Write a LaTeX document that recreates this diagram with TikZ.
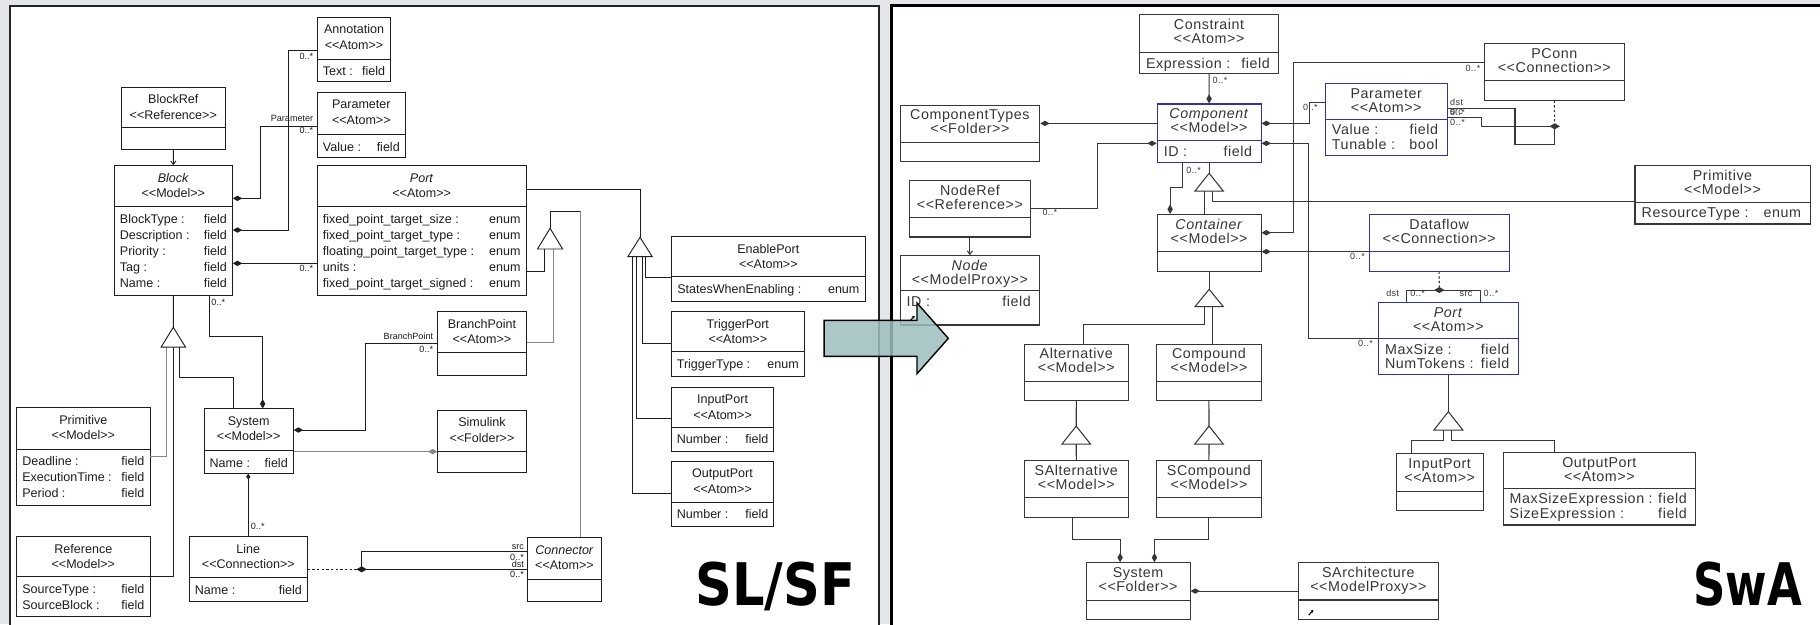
\documentclass[tikz,border=0pt]{standalone}
\usepackage{fontspec}
\usepackage{graphicx}
\setmainfont{Liberation Sans}
\newfontfamily\lfont{Liberation Sans}
\newfontfamily\rfont{Liberation Sans}[LetterSpace=4]
\newfontfamily\bigfont{DejaVu Sans}
\usetikzlibrary{arrows.meta,calc,fit}

\definecolor{bggray}{RGB}{228,230,234}
\definecolor{ink}{RGB}{30,30,30}
\definecolor{paleink}{RGB}{135,135,135}
\definecolor{rink}{RGB}{55,55,55}
\definecolor{umlblue}{RGB}{50,50,165}
\definecolor{arrowfill}{RGB}{158,190,190}

\tikzset{
  lbox/.style={draw=ink, line width=0.8pt, fill=white, inner sep=0pt},
  rbox/.style={draw=rink, line width=0.9pt, fill=white, inner sep=0pt},
  bluebox/.style={draw=umlblue},
  ltxt/.style={font=\lfont\fontsize{10.8}{13}\selectfont, text=ink, inner sep=0pt},
  rtxt/.style={font=\rfont\fontsize{12.3}{14}\selectfont, text=rink, inner sep=0pt},
  llab/.style={font=\lfont\fontsize{7.8}{9}\selectfont, text=ink, inner sep=0pt},
  rlab/.style={font=\rfont\fontsize{7.8}{9}\selectfont, text=rink, inner sep=0pt},
  lrel/.style={draw=ink, line width=0.8pt},
  rrel/.style={draw=rink, line width=0.9pt},
  pale/.style={draw=paleink},
  dstart/.style={arrows={Diamond[length=8pt,width=4.6pt]-}},
  dend/.style={arrows={-Diamond[length=8pt,width=4.6pt]}},
  barb/.style={arrows={-Straight Barb[length=3pt,width=4.5pt]}},
  dots/.style={dash pattern=on 2pt off 2pt},
}

% class box: style, name, x1, y1, x2, y2, divider y
\newcommand\umlbox[7]{%
  \path (#3,#4) coordinate (#2-nw) (#5,#6) coordinate (#2-se);
  \node[#1, fit=(#2-nw)(#2-se)] (#2) {};
  \draw[#1, fill=none] (#3,#7) -- (#5,#7);
}
% name and stereotype lines
\newcommand\lhead[3]{%
  \node[ltxt, anchor=base] (#1-name) at ($(#1.north)+(0,14.5)$) {#2};
  \node[ltxt, anchor=base] (#1-stereo) at ($(#1.north)+(0,28)$) {#3};}
\newcommand\rhead[3]{%
  \node[rtxt, anchor=base] (#1-name) at ($(#1.north)+(0,13.3)$) {#2};
  \node[rtxt, anchor=base] (#1-stereo) at ($(#1.north)+(0,25.3)$) {#3};}
% attribute row: box, index, baseline y, attribute, type
\newcommand\lattr[5]{%
  \node[ltxt, anchor=base west, xshift=5pt] (#1-a#2) at (#1.west |- 0,#3) {#4};
  \node[ltxt, anchor=base east, xshift=-5pt] (#1-t#2) at (#1.east |- 0,#3) {#5};}
\newcommand\rattr[5]{%
  \node[rtxt, anchor=base west, xshift=6pt] (#1-a#2) at (#1.west |- 0,#3) {#4};
  \node[rtxt, anchor=base east, xshift=-8pt] (#1-t#2) at (#1.east |- 0,#3) {#5};}
% open generalisation triangle: style, apex x, apex y, half width, height
\newcommand\gentri[5]{%
  \draw[#1, fill=white, line join=miter] (#2,#3) -- ++(-#4,#5) -- ++({2*#4},0) -- cycle;}
% filled junction diamond
\newcommand\jdiam[2]{%
  \fill[#2] (#1) +(-4.5,0) -- +(0,-2.6) -- +(4.5,0) -- +(0,2.6) -- cycle;}

\begin{document}
\begin{tikzpicture}[x=1pt,y=-1pt]
\useasboundingbox (0,0) rectangle (1568,538);
\fill[bggray] (0,0) rectangle (1568,538);
\draw[draw=black!85, line width=2pt, fill=white] (8.5,5) rectangle (757,560);
\draw[draw=black, line width=2.6pt, fill=white] (768,4.5) rectangle (1600,560);

% ---------------- SL/SF meta-model ----------------
\umlbox{lbox}{annot}{273.4}{14.9}{336.6}{70.6}{51.1}
\lhead{annot}{Annotation}{<<Atom>>}
\lattr{annot}{1}{65.3}{Text :}{field}

\umlbox{lbox}{lparam}{273.4}{79.8}{349.2}{135.6}{116.0}
\lhead{lparam}{Parameter}{<<Atom>>}
\lattr{lparam}{1}{130.2}{Value :}{field}

\umlbox{lbox}{blockref}{104.5}{75.0}{194.1}{128.4}{109.4}
\lhead{blockref}{BlockRef}{<<Reference>>}

\umlbox{lbox}{block}{98.5}{142.7}{200.2}{254.2}{178.1}
\lhead{block}{\textit{Block}}{<<Model>>}
\lattr{block}{1}{192.3}{BlockType :}{field}
\lattr{block}{2}{206.1}{Description :}{field}
\lattr{block}{3}{219.9}{Priority :}{field}
\lattr{block}{4}{233.7}{Tag :}{field}
\lattr{block}{5}{247.5}{Name :}{field}

\umlbox{lbox}{lport}{273.4}{142.7}{453.2}{254.2}{178.1}
\lhead{lport}{\textit{Port}}{<<Atom>>}
\lattr{lport}{1}{192.3}{fixed\_point\_target\_size :}{enum}
\lattr{lport}{2}{206.1}{fixed\_point\_target\_type :}{enum}
\lattr{lport}{3}{219.9}{floating\_point\_target\_type :}{enum}
\lattr{lport}{4}{233.7}{units :}{enum}
\lattr{lport}{5}{247.5}{fixed\_point\_target\_signed :}{enum}

\umlbox{lbox}{enable}{578.7}{203.9}{745.2}{259.3}{238.4}
\lhead{enable}{EnablePort}{<<Atom>>}
\lattr{enable}{1}{252.6}{StatesWhenEnabling :}{enum}

\umlbox{lbox}{trigger}{578.3}{268.5}{693.0}{324.5}{303.0}
\lhead{trigger}{TriggerPort}{<<Atom>>}
\lattr{trigger}{1}{317.2}{TriggerType :}{enum}

\umlbox{lbox}{linput}{578.3}{333.7}{666.7}{389.1}{368.2}
\lhead{linput}{InputPort}{<<Atom>>}
\lattr{linput}{1}{382.4}{Number :}{field}

\umlbox{lbox}{loutput}{578.3}{397.7}{666.7}{453.8}{432.7}
\lhead{loutput}{OutputPort}{<<Atom>>}
\lattr{loutput}{1}{446.9}{Number :}{field}

\umlbox{lbox}{branch}{377.2}{268.5}{453.2}{323.1}{303.9}
\lhead{branch}{BranchPoint}{<<Atom>>}

\umlbox{lbox}{simulink}{377.2}{353.2}{453.2}{407.2}{389.1}
\lhead{simulink}{Simulink}{<<Folder>>}

\umlbox{lbox}{system}{175.8}{352.3}{252.7}{407.8}{388.3}
\lhead{system}{System}{<<Model>>}
\lattr{system}{1}{402.5}{Name :}{field}

\umlbox{lbox}{lprim}{14.4}{351.2}{129.2}{435.1}{386.9}
\lhead{lprim}{Primitive}{<<Model>>}
\lattr{lprim}{1}{401.1}{Deadline :}{field}
\lattr{lprim}{2}{414.9}{ExecutionTime :}{field}
\lattr{lprim}{3}{428.7}{Period :}{field}

\umlbox{lbox}{lref}{14.4}{462.4}{129.2}{531.3}{496.8}
\lhead{lref}{Reference}{<<Model>>}
\lattr{lref}{1}{511.0}{SourceType :}{field}
\lattr{lref}{2}{524.8}{SourceBlock :}{field}

\umlbox{lbox}{line}{163.1}{462.4}{264.8}{518.4}{497.7}
\lhead{line}{Line}{<<Connection>>}
\lattr{line}{1}{511.9}{Name :}{field}

\umlbox{lbox}{connector}{454.6}{463.2}{518.0}{517.8}{499.1}
\lhead{connector}{\textit{Connector}}{<<Atom>>}

% SL/SF relations
\draw[lrel,barb] (blockref.south) -- (block.north);
\draw[lrel,dstart] (block.east |- 0,170.9) -| (224,108.6) -- (lparam.west |- 0,108.6);
\draw[lrel,dstart] (block.east |- 0,198.2) -| (248.4,43.7) -- (annot.west |- 0,43.7);
\draw[lrel,dstart] (block.east |- 0,226.9) -- (lport.west |- 0,226.9);
\draw[lrel,dend] (block.south -| 180.4,0) |- (226.3,289.5) -- (system.north -| 226.3,0);

\draw[lrel] (block.south) -- (149.3,282);
\draw[lrel,pale] (143.6,299) |- (lprim.east |- 0,392.9);
\draw[lrel] (149.3,299) |- (lref.east |- 0,496.8);
\draw[lrel] (154.2,299) |- (201,325.1) -- (system.north -| 201,0);
\gentri{lrel}{149.3}{282}{10.5}{17}

\draw[lrel,dstart] (system.east |- 0,370.5) -| (314.5,295.8) -- (branch.west |- 0,295.8);
\draw[lrel,pale,dend] (system.east |- 0,389.1) -- (simulink.west |- 0,389.1);
\draw[lrel,arrows={Diamond[length=5pt,width=3.6pt]-}] (system.south -| 213.9,0) -- (line.north -| 213.9,0);

\coordinate (lj) at (311.6,490.5);
\draw[lrel,dots] (line.east |- lj) -- (lj);
\draw[lrel] (lj) -- (connector.west |- lj);
\draw[lrel] (lj) |- (connector.west |- 0,475.2);
\jdiam{lj}{ink}

\draw[lrel,pale] (connector.north -| 499.7,0) -- (499.7,181.8);
\draw[lrel] (499.7,181.8) -- (473.9,181.8) -- (473.9,196.7);
\draw[lrel] (469.5,214.5) |- (lport.east |- 0,234.1);
\draw[lrel,pale] (476.7,214.5) |- (branch.east |- 0,295.3);
\gentri{lrel}{473.9}{196.7}{10.8}{17.8}

\draw[lrel] (lport.east |- 0,162.8) -| (551.4,204.5);
\draw[lrel] (556.5,221.1) |- (enable.west |- 0,239.2);
\draw[lrel] (553.6,221.1) |- (trigger.west |- 0,295.8);
\draw[lrel] (548.6,221.1) |- (linput.west |- 0,360.4);
\draw[lrel] (544.8,221.1) |- (loutput.west |- 0,425.0);
\gentri{lrel}{551.4}{204.5}{10.5}{16.6}

\node[llab,anchor=base east] (ll1) at (270,104.3) {Parameter};
\node[llab,anchor=base east] (ll2) at (270,114.9) {0..*};
\node[llab,anchor=base east] (ll3) at (270,51.1) {0..*};
\node[llab,anchor=base east] (ll4) at (270,233.5) {0..*};
\node[llab,anchor=base west] (ll5) at (182,263.6) {0..*};
\node[llab,anchor=base east] (ll6) at (373.3,292.3) {BranchPoint};
\node[llab,anchor=base east] (ll7) at (373.3,303.3) {0..*};
\node[llab,anchor=base west] (ll8) at (216,456.6) {0..*};
\node[llab,anchor=base east] (ll9) at (451.5,473.3) {src};
\node[llab,anchor=base east] (ll10) at (451.5,482.6) {0..*};
\node[llab,anchor=base east] (ll11) at (451.5,489.2) {dst};
\node[llab,anchor=base east] (ll12) at (451.5,497.6) {0..*};

\node[font=\bigfont\bfseries\fontsize{44}{50}\selectfont, anchor=base, inner sep=0pt] (slsf) at (668,522) {\scalebox{1}[1.15]{SL/SF}};

% ---------------- SwA meta-model ----------------
\umlbox{rbox}{constraint}{981.6}{12.9}{1101.7}{63.5}{45.1}
\rhead{constraint}{Constraint}{<<Atom>>}
\rattr{constraint}{1}{58.6}{Expression :}{field}

\umlbox{rbox,bluebox}{component}{996.9}{89.6}{1086.5}{140.1}{121.2}
\rhead{component}{\textit{Component}}{<<Model>>}
\rattr{component}{1}{134.7}{ID :}{field}

\umlbox{rbox}{comptypes}{775.4}{90.5}{895.8}{139.3}{122.6}
\rhead{comptypes}{ComponentTypes}{<<Folder>>}

\umlbox{rbox}{noderef}{783.2}{155.4}{888.0}{204.2}{187.2}
\rhead{noderef}{NodeRef}{<<Reference>>}

\umlbox{rbox}{node}{775.4}{220.3}{895.8}{280.0}{250.4}
\rhead{node}{\textit{Node}}{<<ModelProxy>>}
\rattr{node}{1}{263.9}{ID :}{field}
\draw[black, line width=0.9pt, -{Stealth[length=2.4pt,width=2.8pt]}] (784,276.5) -- (788,272);

\umlbox{rbox}{container}{996.9}{184.7}{1086.5}{233.5}{216.3}
\rhead{container}{\textit{Container}}{<<Model>>}

\umlbox{rbox,bluebox}{rparam}{1141.8}{72.1}{1246.7}{134.1}{102.8}
\rhead{rparam}{Parameter}{<<Atom>>}
\rattr{rparam}{1}{116.3}{Value :}{field}
\rattr{rparam}{2}{128.7}{Tunable :}{bool}

\umlbox{rbox}{pconn}{1278.8}{37.3}{1399.4}{86.2}{69.5}
\rhead{pconn}{PConn}{<<Connection>>}

\umlbox{rbox}{rprim}{1408.6}{142.7}{1559.4}{193.0}{174.3}
\rhead{rprim}{Primitive}{<<Model>>}
\rattr{rprim}{1}{187.8}{ResourceType :}{enum}

\umlbox{rbox,bluebox}{dataflow}{1179.7}{184.7}{1300.1}{233.5}{216.3}
\rhead{dataflow}{Dataflow}{<<Connection>>}

\umlbox{rbox,bluebox}{rport}{1187.5}{260.5}{1308.1}{322.5}{291.5}
\rhead{rport}{\textit{Port}}{<<Atom>>}
\rattr{rport}{1}{305.0}{MaxSize :}{field}
\rattr{rport}{2}{317.4}{NumTokens :}{field}

\umlbox{rbox}{rinput}{1203.0}{390.6}{1277.7}{439.4}{423.1}
\rhead{rinput}{InputPort}{<<Atom>>}

\umlbox{rbox}{routput}{1294.9}{389.7}{1460.9}{452.3}{420.7}
\rhead{routput}{OutputPort}{<<Atom>>}
\rattr{routput}{1}{434.2}{MaxSizeExpression :}{field}
\rattr{routput}{2}{446.6}{SizeExpression :}{field}

\umlbox{rbox}{alt}{882.3}{296.4}{972.2}{345.2}{328.3}
\rhead{alt}{Alternative}{<<Model>>}
\umlbox{rbox}{compound}{996.6}{296.4}{1086.5}{345.2}{328.3}
\rhead{compound}{Compound}{<<Model>>}
\umlbox{rbox}{salt}{882.3}{396.6}{972.2}{445.5}{428.5}
\rhead{salt}{SAlternative}{<<Model>>}
\umlbox{rbox}{scompound}{996.6}{396.6}{1086.5}{445.5}{428.5}
\rhead{scompound}{SCompound}{<<Model>>}
\umlbox{rbox}{rsystem}{935.7}{484.8}{1025.3}{533.6}{517.0}
\rhead{rsystem}{System}{<<Folder>>}
\umlbox{rbox}{sarch}{1118.6}{484.8}{1239.2}{533.6}{516.9}
\rhead{sarch}{SArchitecture}{<<ModelProxy>>}
\draw[black, line width=0.9pt, -{Stealth[length=2.4pt,width=2.8pt]}] (1127.5,530) -- (1131.5,525.5);

% SwA relations
\draw[rrel,dend] (constraint.south) -- (component.north);
\draw[rrel,dstart] (comptypes.east |- 0,106.3) -- (component.west |- 0,106.3);
\draw[rrel,dend] (noderef.east |- 0,179.5) -| (945.7,123.5) -- (component.west |- 0,123.5);
\draw[rrel,barb] (noderef.south) -- (node.north);
\draw[rrel,dend] (component.south -| 1019,0) |- (1008.1,161.7) -- (container.north -| 1008.1,0);

\draw[rrel] (component.south) -- (1041.7,149.3);
\draw[rrel] (1037.3,164.6) -- (container.north -| 1037.3,0);
\draw[rrel] (1044.5,164.6) |- (rprim.west |- 0,173.6);
\gentri{rrel}{1041.7}{149.3}{12.2}{15.3}

\draw[rrel,dstart] (component.east |- 0,106.3) -| (1128,88.5) -- (rparam.west |- 0,88.5);
\draw[rrel,dstart] (component.east |- 0,123.5) -| (1127.7,291.5) -- (rport.west |- 0,291.5);
\draw[rrel,dstart] (container.east |- 0,200.5) -| (1114.3,54) -- (pconn.west |- 0,54);
\draw[rrel,dstart] (container.east |- 0,216.8) -- (dataflow.west |- 0,216.8);

\coordinate (dj) at (1240,249.9);
\draw[rrel,dots] (dataflow.south) -- (dj);
\draw[rrel] (dj) -| (rport.north -| 1211.9,0);
\draw[rrel] (dj) -| (rport.north -| 1275.1,0);
\jdiam{dj}{rink}

\coordinate (pj) at (1339.4,108.8);
\draw[rrel,dots] (pconn.south) -- (pj);
\draw[rrel] (pj) -| (1276,101.1) -- (rparam.east |- 0,101.1);
\draw[rrel] (pj) |- (1305.2,124.1) |- (rparam.east |- 0,93.6);
\jdiam{pj}{rink}

\draw[rrel] (container.south) -- (1041.7,249.3);
\draw[rrel] (1037.3,264.2) |- (933.4,279.5) -- (alt.north -| 933.4,0);
\draw[rrel] (1044.5,264.2) -- (compound.north -| 1044.5,0);
\gentri{rrel}{1041.7}{249.3}{12.2}{14.9}

\draw[rrel] (alt.south) -- (927.2,367.1);
\draw[rrel] (927.2,382.6) -- (salt.north);
\gentri{rrel}{927.2}{367.1}{12.3}{15.5}
\draw[rrel] (compound.south) -- (1041.6,367.1);
\draw[rrel] (1041.6,382.6) -- (scompound.north);
\gentri{rrel}{1041.6}{367.1}{12.3}{15.5}

\draw[rrel,dend] (salt.south -| 923.9,0) |- (965,464.4) -- (rsystem.north -| 965,0);
\draw[rrel,dend] (scompound.south) |- (994.6,464.4) -- (rsystem.north -| 994.6,0);
\draw[rrel,dend] (sarch.west |- 0,509.2) -- (rsystem.east |- 0,509.2);

\draw[rrel] (rport.south) -- (1247.8,354.7);
\draw[rrel] (1243.5,370.5) |- (1216.3,379.9) -- (rinput.north -| 1216.3,0);
\draw[rrel] (1250.7,370.5) |- (1339.6,379.9) -- (routput.north -| 1339.6,0);
\gentri{rrel}{1247.8}{354.7}{12.5}{15.8}

\node[rlab,anchor=base west] (rl1) at (1044.5,71.8) {0..*};
\node[rlab,anchor=base west] (rl2) at (898,185.5) {0..*};
\node[rlab,anchor=base west] (rl3) at (1021.8,149.9) {0..*};
\node[rlab,anchor=base west] (rl4) at (1122.4,95.6) {0..*};
\node[rlab,anchor=base east] (rl5) at (1183,298.1) {0..*};
\node[rlab,anchor=base east] (rl6) at (1275.5,61.2) {0..*};
\node[rlab,anchor=base east] (rl7) at (1176,223.4) {0..*};
\node[rlab,anchor=base west] (rl8) at (1194.1,255.2) {dst};
\node[rlab,anchor=base west] (rl9) at (1214.8,255.2) {0..*};
\node[rlab,anchor=base west] (rl10) at (1257.3,255.2) {src};
\node[rlab,anchor=base west] (rl11) at (1278,255.2) {0..*};
\node[rlab,anchor=base west] (rl12) at (1249.2,91) {dst};
\node[rlab,anchor=base west] (rl13) at (1249.2,98.6) {src};
\node[rlab,anchor=base west] (rl14) at (1249.2,99.2) {0..*};
\node[rlab,anchor=base west] (rl15) at (1249.2,108.3) {0..*};

\node[font=\bigfont\bfseries\fontsize{44}{50}\selectfont, anchor=base, inner sep=0pt] (swa) at (1505.5,522) {\scalebox{0.88}[1.15]{SwA}};

% transformation arrow between the two meta-models
\draw[line width=1.2pt, fill=arrowfill, fill opacity=0.85, line join=miter]
  (710,276) -- (790,276) -- (790,261) -- (817,291.5) -- (790,322) -- (790,307) -- (710,307) -- cycle;
\end{tikzpicture}
\end{document}
